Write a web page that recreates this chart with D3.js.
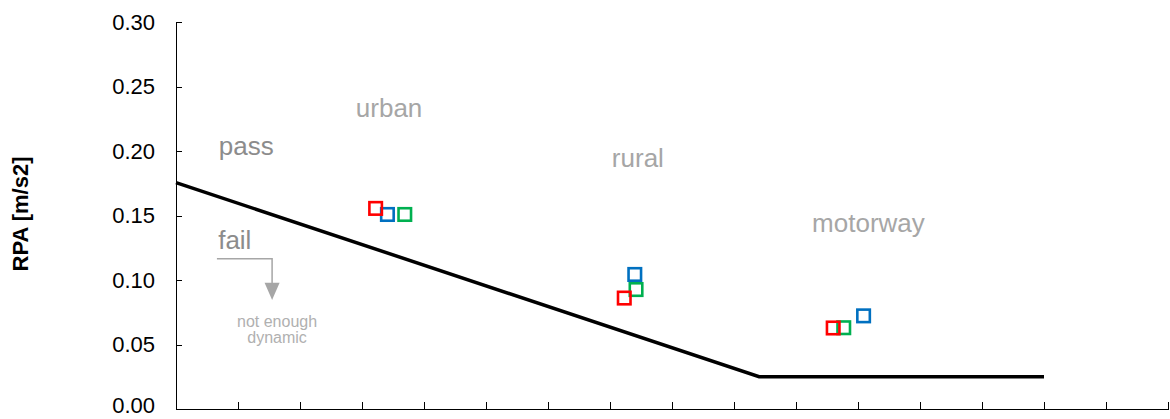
<!DOCTYPE html>
<html>
<head>
<meta charset="utf-8">
<script src="https://cdn.jsdelivr.net/npm/d3@7"></script>
<style>
  html, body { margin: 0; padding: 0; background: #fff; }
  svg { display: block; font-family: "Liberation Sans", Arial, sans-serif; }
</style>
</head>
<body>
<svg id="chart" width="1170" height="419"></svg>
<script>
// Vehicle speed [km/h] and relative positive acceleration [m/s2] per trip section
const sections = ["urban", "rural", "motorway"];
const redSpeed   = [32.2, 72.3, 106.0];
const redRPA     = [0.1555, 0.0860, 0.0628];
const blueSpeed  = [34.1, 74.0, 110.9];
const blueRPA    = [0.1508, 0.1043, 0.0722];
const greenSpeed = [36.9, 74.2, 107.7];
const greenRPA   = [0.1508, 0.0926, 0.0630];

// Lower RPA limit: linear below 94.05 km/h, constant above
const limitSpeed = [0, 94.05, 140];
const limitRPA   = [0.1755, 0.025, 0.025];

const yTicks = [0, 0.05, 0.10, 0.15, 0.20, 0.25, 0.30];
const xTicks = d3.range(0, 161, 10);

const svg = d3.select("#chart");
const x = d3.scaleLinear().domain([0, 160]).range([176, 1168]);
const y = d3.scaleLinear().domain([0, 0.30]).range([409, 22]);

// Axes with inward ticks
const yAxis = svg.append("g")
  .attr("transform", `translate(${x(0)},0)`)
  .call(d3.axisLeft(y).tickValues(yTicks).tickSizeInner(-6).tickSizeOuter(0)
        .tickFormat(d3.format(".2f")).tickPadding(21));
const xAxis = svg.append("g")
  .attr("transform", `translate(0,${y(0)})`)
  .call(d3.axisBottom(x).tickValues(xTicks).tickSizeInner(-7).tickSizeOuter(0)
        .tickFormat(""));
[yAxis, xAxis].forEach(g => {
  g.selectAll("path, line").attr("stroke", "#000").attr("stroke-width", 1).attr("shape-rendering", "crispEdges");
});
yAxis.selectAll("text").attr("font-size", 22).attr("fill", "#000")
  .attr("font-family", "Liberation Sans, Arial, sans-serif");
// keep the bottom label clear of the lower edge
yAxis.selectAll(".tick").filter(d => d === 0).select("text").attr("dy", "0.18em");

// Axis title
svg.append("text")
  .attr("transform", `translate(28,214) rotate(-90)`)
  .attr("text-anchor", "middle")
  .attr("font-size", 22).attr("font-weight", "bold").attr("fill", "#000")
  .text("RPA [m/s2]");

// Limit line
svg.append("path")
  .datum(d3.zip(limitSpeed, limitRPA))
  .attr("d", d3.line().x(d => x(d[0])).y(d => y(d[1])))
  .attr("fill", "none").attr("stroke", "#000").attr("stroke-width", 3.5);

// Region labels
const grey = "#a6a6a6", darkGrey = "#8c8c8c";
const labels = [
  { t: "pass",     v: 6.9,   r: 0.197,  c: darkGrey },
  { t: sections[0], v: 29.0, r: 0.2264, c: grey },
  { t: sections[1], v: 70.3, r: 0.1876, c: grey },
  { t: sections[2], v: 102.6, r: 0.1372, c: grey },
  { t: "fail",     v: 6.8,   r: 0.1240, c: darkGrey }
];
svg.selectAll("text.region").data(labels).join("text")
  .attr("class", "region")
  .attr("x", d => x(d.v)).attr("y", d => y(d.r))
  .attr("font-size", 26).attr("fill", d => d.c)
  .text(d => d.t);

// "not enough dynamic" pointer
const ax0 = x(6.6), ax1 = x(15.5), ay0 = y(0.1165), ay1 = y(0.097), tip = y(0.0845);
svg.append("path")
  .attr("d", `M${ax0},${ay0}H${ax1}V${ay1}`)
  .attr("fill", "none").attr("stroke", grey).attr("stroke-width", 1.5);
svg.append("path")
  .attr("d", `M${ax1 - 7.5},${ay1 - 1}L${ax1 + 7.5},${ay1 - 1}L${ax1},${tip}Z`)
  .attr("fill", grey);
const noteX = x(16.3);
svg.append("text")
  .attr("x", noteX).attr("y", y(0.0639))
  .attr("text-anchor", "middle").attr("font-size", 16).attr("fill", "#b0b0b0")
  .selectAll("tspan").data(["not enough", "dynamic"]).join("tspan")
  .attr("x", noteX).attr("dy", (d, i) => i ? 16 : 0)
  .text(d => d);

// Measured points (drawn green, blue, red so red sits on top)
const series = [
  { speed: greenSpeed, rpa: greenRPA, color: "#00b050" },
  { speed: blueSpeed,  rpa: blueRPA,  color: "#0070c0" },
  { speed: redSpeed,   rpa: redRPA,   color: "#ff0000" }
];
const size = 12.5;
series.forEach(s => {
  svg.append("g").selectAll("rect")
    .data(d3.zip(s.speed, s.rpa)).join("rect")
    .attr("x", d => x(d[0]) - size / 2)
    .attr("y", d => y(d[1]) - size / 2)
    .attr("width", size).attr("height", size)
    .attr("fill", "none").attr("stroke", s.color).attr("stroke-width", 2.6);
});
</script>
</body>
</html>
